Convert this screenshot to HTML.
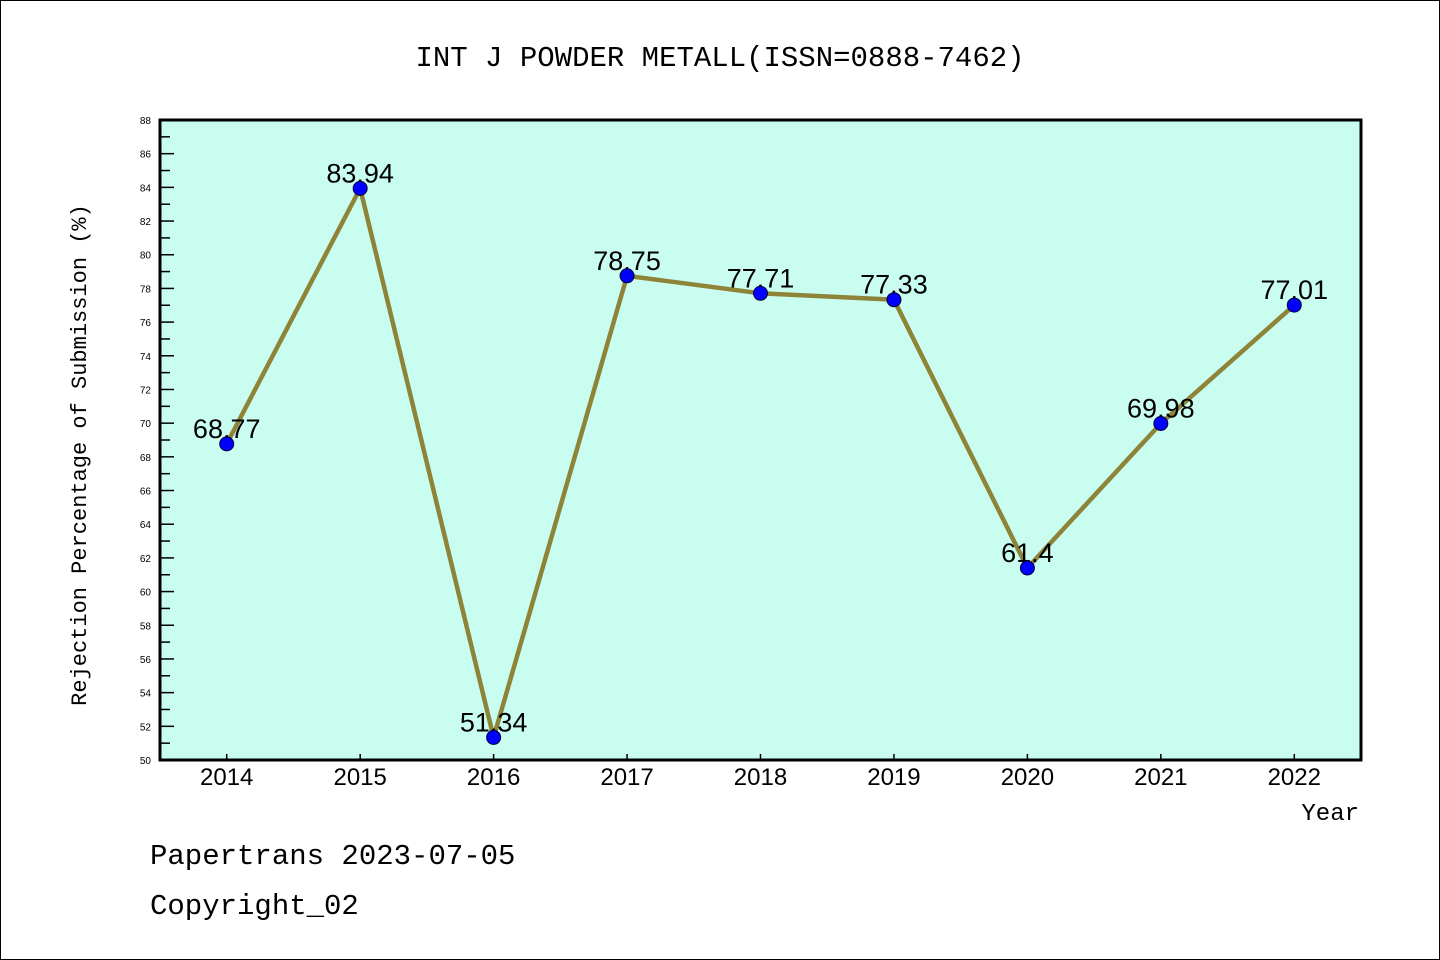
<!DOCTYPE html>
<html><head><meta charset="utf-8"><style>
body{margin:0;background:#fff;}
svg{display:block;font-family:"Liberation Mono","DejaVu Sans Mono",monospace;}
</style></head><body>
<svg width="1440" height="960">
<rect x="0.5" y="0.5" width="1439" height="959" fill="#fff" stroke="#000"/>
<text x="720" y="66" text-anchor="middle" font-size="29">INT J POWDER METALL(ISSN=0888-7462)</text>
<rect x="160" y="120" width="1201" height="640" fill="#c8fdf0"/>
<g id="yaxis"></g>
<g id="xaxis"></g>
<g id="series"></g>
<rect x="160" y="120" width="1201" height="640" fill="none" stroke="#000" stroke-width="3"/>
<text x="86" y="455" transform="rotate(-90 86 455)" text-anchor="middle" font-size="22">Rejection Percentage of Submission (%)</text>
<text x="1359" y="820" text-anchor="end" font-size="24">Year</text>
<text x="150" y="864" font-size="29">Papertrans 2023-07-05</text>
<text x="150" y="914" font-size="29">Copyright_02</text>
</svg>
<script>
const categories=["2014","2015","2016","2017","2018","2019","2020","2021","2022"];
const values=[68.77,83.94,51.34,78.75,77.71,77.33,61.4,69.98,77.01];
const valueLabels=["68.77","83.94","51.34","78.75","77.71","77.33","61.4","69.98","77.01"];
const yMin=50,yMax=88;
const NS="http://www.w3.org/2000/svg";
const L=160,R=1361,T=120,B=760;
const step=(R-L)/categories.length;
const xs=i=>L+step*(i+0.5);
const ys=v=>B-(v-yMin)/(yMax-yMin)*(B-T);
function mk(tag,attrs,parent,txt){const e=document.createElementNS(NS,tag);for(const k in attrs)e.setAttribute(k,attrs[k]);if(txt!==undefined)e.textContent=txt;parent.appendChild(e);return e;}
const ya=document.getElementById('yaxis'),xa=document.getElementById('xaxis'),sg=document.getElementById('series');
for(let v=yMin;v<=yMax;v++){
  const y=ys(v),major=(v%2===0);
  const t=mk('line',{x1:L,x2:L+(major?14:10),y1:y,y2:y,stroke:'#000','stroke-width':1.5},ya);
  
  
  if(major){const lb=mk('text',{x:151,y:y+4,'text-anchor':'end','font-size':10,'font-family':'Liberation Sans,sans-serif'},ya,String(v));
    
    }
}
categories.forEach((c,i)=>{
  const x=xs(i);
  const t=mk('line',{x1:x,x2:x,y1:B,y2:B-6,stroke:'#000','stroke-width':1.5},xa);
  
  
  const lb=mk('text',{x:x,y:785,'text-anchor':'middle','font-size':24,'font-family':'Liberation Sans,sans-serif'},xa,c);
  
  
});
const pts=values.map((v,i)=>xs(i)+','+ys(v)).join(' ');
const pl=mk('polyline',{points:pts,fill:'none',stroke:'#8e8438','stroke-width':4.5,'stroke-linejoin':'round'},sg);


values.forEach((v,i)=>{
  const lb=mk('text',{x:xs(i),y:ys(v)-6,'text-anchor':'middle','font-size':27,'font-family':'Liberation Sans,sans-serif'},sg,valueLabels[i]);
  
  
});
values.forEach((v,i)=>{
  const c=mk('circle',{cx:xs(i),cy:ys(v),r:7,fill:'#0000ff',stroke:'#000033','stroke-width':1},sg);
  
  
});
</script>
</body></html>
